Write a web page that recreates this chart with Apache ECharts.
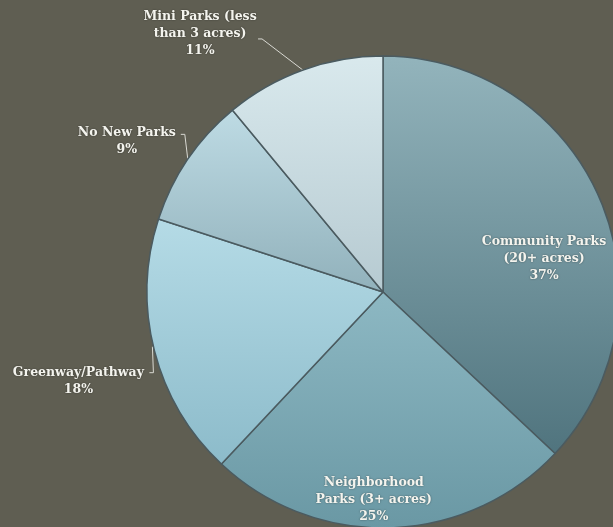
<!DOCTYPE html>
<html><head><meta charset="utf-8">
<script src="https://cdn.jsdelivr.net/npm/echarts@6/dist/echarts.min.js"></script>
<style>html,body{margin:0;padding:0;background:#5f5e52;overflow:hidden}#c{width:613px;height:527px}</style>
</head><body><div id="c"></div>
<script>
// ---- data ----
const categories = ['Community Parks\n(20+ acres)', 'Neighborhood\nParks (3+ acres)', 'Greenway/Pathway', 'No New Parks', 'Mini Parks (less\nthan 3 acres)'];
const values = [37, 25, 18, 9, 11];

// ---- styles (top colour, bottom colour of each slice) ----
const sliceColors = [
  ['#93b4bc', '#50747e'],
  ['#8db8c3', '#6a98a4'],
  ['#b5dbe6', '#8cbbca'],
  ['#bedbe4', '#91b1bb'],
  ['#d9e9ed', '#b6cad1']
];
const insideLabel = [true, true, false, false, false];
const insideShift = [[50, 15], [-13, 87], null, null, null];
// outside label centre offset from the sector edge point, and leader-line offsets
const outsideCentre = [null, null, [-76, 31], [-61, -18], [-103, -36]];
const outsideLine = [null, null,
  [[-2, -4], [-1, 22], [-5, 22]],
  [[0, 0], [-3, -25], [-7, -25]],
  [[1, 1], [-41, -31], [-45, -31]]
];

const chart = echarts.init(document.getElementById('c'), null, {renderer: 'canvas'});
const data = values.map((v, i) => ({
  value: v,
  name: categories[i],
  itemStyle: {
    color: new echarts.graphic.LinearGradient(0, 0, 0, 1, [
      {offset: 0, color: sliceColors[i][0]},
      {offset: 1, color: sliceColors[i][1]}
    ])
  },
  label: {position: insideLabel[i] ? 'inside' : 'outside'},
  labelLine: {show: !insideLabel[i]}
}));

chart.setOption({
  backgroundColor: '#5f5e52',
  animation: false,
  series: [{
    type: 'pie',
    center: [383, 292],
    radius: 236,
    startAngle: 90,
    clockwise: true,
    avoidLabelOverlap: false,
    data: data,
    itemStyle: {borderColor: '#4b5b60', borderWidth: 1.5},
    label: {
      formatter: '{b}\n{d}%',
      color: '#f4f4ee',
      fontFamily: 'DejaVu Serif',
      fontWeight: 'bold',
      fontSize: 12.5,
      lineHeight: 17,
      align: 'center',
      textShadowColor: 'rgba(0,0,0,0.45)',
      textShadowBlur: 2
    },
    labelLine: {
      show: true,
      length: 20,
      length2: 5,
      lineStyle: {color: '#d9d9d2', width: 1}
    },
    labelLayout: function (p) {
      const i = p.dataIndex;
      if (insideLabel[i]) {
        return {dx: insideShift[i][0], dy: insideShift[i][1]};
      }
      const pts = p.labelLinePoints;
      if (!pts) return {};
      const e = pts[0];
      return {
        x: e[0] + outsideCentre[i][0],
        y: e[1] + outsideCentre[i][1],
        align: 'center',
        verticalAlign: 'middle',
        labelLinePoints: outsideLine[i].map(o => [e[0] + o[0], e[1] + o[1]])
      };
    }
  }]
});
</script>
</body></html>
